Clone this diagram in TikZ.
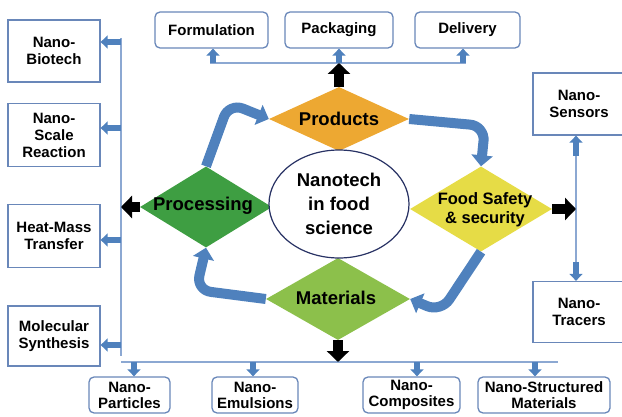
\documentclass[tikz,border=0pt]{standalone}
\usepackage{fontspec}
\setmainfont{Liberation Sans}
\usepackage{xcolor}
\usetikzlibrary{
	arrows.meta,
	shapes.geometric,
}
\definecolor{flowblue}{RGB}{79,129,189}
\definecolor{trunkblue}{RGB}{140,168,210}
\definecolor{boxedge}{RGB}{105,135,185}
\definecolor{products}{RGB}{237,168,50}
\definecolor{processing}{RGB}{62,158,66}
\definecolor{safety}{RGB}{230,220,70}
\definecolor{materials}{RGB}{140,192,75}
\definecolor{ellipseedge}{RGB}{40,50,100}

\begin{document}
\begin{tikzpicture}[x=1pt, y=-1pt,
	sqbox/.style={draw=boxedge, line width=1.3pt, fill=white, minimum width=92pt, inner sep=1pt, align=center, font=\fontsize{15}{17}\selectfont\bfseries},
	rdbox/.style={sqbox, rounded corners=5pt, minimum height=36pt, font=\fontsize{15}{16}\selectfont\bfseries},
	diam/.style={diamond, inner sep=0pt},
	bigtxt/.style={align=center, font=\fontsize{18.5}{24}\selectfont\bfseries},
	trunk/.style={draw=trunkblue, line width=1.6pt},
	smallarr/.style={flowblue, line width=6pt, -{Triangle[width=13pt,length=7pt]}},
	blackarr/.style={black, line width=10pt, -{Triangle[width=22pt,length=11pt]}},
	fatarr/.style={flowblue, line width=10pt, rounded corners=15pt, -{Triangle[width=21pt,length=11pt]}}]
\useasboundingbox (0,0) rectangle (622,417);

% left boxes
\node[sqbox, minimum height=62pt] (biotech) at (54,51) {Nano-\\Biotech};
\node[sqbox, minimum height=63pt] (scale) at (54,135) {Nano-\\Scale\\Reaction};
\node[sqbox, minimum height=63pt] (heat) at (54,236) {Heat-Mass\\Transfer};
\node[sqbox, minimum height=60pt] (molec) at (54,336) {Molecular\\Synthesis};

% right boxes
\node[sqbox, minimum height=62pt] (sensors) at (579,104) {Nano-\\Sensors};
\node[sqbox, minimum height=61pt] (tracers) at (579,312) {Nano-\\Tracers};

% top boxes
\node[rdbox, minimum width=113pt] (form) at (211.5,30) {Formulation};
\node[rdbox, minimum width=108pt] (pack) at (339,30) {Packaging};
\node[rdbox, minimum width=105pt] (deliv) at (467.5,30) {Delivery};

% bottom boxes
\node[rdbox, minimum width=81pt] (part) at (129.5,395) {Nano-\\Particles};
\node[rdbox, minimum width=86pt] (emul) at (255,395) {Nano-\\Emulsions};
\node[rdbox, minimum width=97pt] (comp) at (411.5,395) {Nano-\\Composites};
\node[rdbox, minimum width=132pt] (struct) at (544,395) {Nano-Structured\\Materials};

% trunk lines
\coordinate (lt) at (121,38);
\coordinate (lb) at (121,356);
\coordinate (bl) at (121,362);
\coordinate (br) at (558,362);
\coordinate (tl) at (210,63);
\coordinate (tr) at (466,63);
\coordinate (rt) at (576,150);
\coordinate (rb) at (576,266);
\draw[trunk] (lt) -- (lb);
\draw[trunk] (bl) -- (br);
\draw[trunk] (tl) -- (tr);
\draw[trunk] (rt) -- (rb);

% small blue arrows
\coordinate (l1) at (121,42);
\coordinate (l2) at (121,128);
\coordinate (l3) at (121,240);
\coordinate (l4) at (121,345);
\draw[smallarr] (l1) -- (l1 -| biotech.east);
\draw[smallarr] (l2) -- (l2 -| scale.east);
\draw[smallarr] (l3) -- (l3 -| heat.east);
\draw[smallarr] (l4) -- (l4 -| molec.east);
\coordinate (t1) at (213,63);
\coordinate (t2) at (339,63);
\coordinate (t3) at (463,63);
\draw[smallarr] (t1) -- (t1 |- form.south);
\draw[smallarr] (t2) -- (t2 |- pack.south);
\draw[smallarr] (t3) -- (t3 |- deliv.south);
\coordinate (b1) at (134,362);
\coordinate (b2) at (253,362);
\coordinate (b3) at (417,362);
\coordinate (b4) at (535,362);
\draw[smallarr] (b1) -- (b1 |- part.north);
\draw[smallarr] (b2) -- (b2 |- emul.north);
\draw[smallarr] (b3) -- (b3 |- comp.north);
\draw[smallarr] (b4) -- (b4 |- struct.north);
\coordinate (r1) at (576,156);
\coordinate (r2) at (576,262);
\draw[smallarr] (r1) -- (r1 |- sensors.south);
\draw[smallarr] (r2) -- (r2 |- tracers.north);

% diamonds
\node[diam, fill=products, minimum width=140pt, minimum height=64pt] (prod) at (339,119) {};
\node[diam, fill=processing, minimum width=132pt, minimum height=81pt] (proc) at (206,207) {};
\node[diam, fill=safety, minimum width=142pt, minimum height=85pt] (safe) at (481,209) {};
\node[diam, fill=materials, minimum width=144pt, minimum height=82pt] (mat) at (338,299) {};

% centre
\node[ellipse, draw=ellipseedge, line width=1.2pt, fill=white, minimum width=140pt, minimum height=108pt, bigtxt] (core) at (339,204) {Nanotech\\in food\\science};

\node[bigtxt] (prodtxt) at (prod.center) {Products};
\node[bigtxt] (proctxt) at (203,206) {Processing};
\node[bigtxt, font=\fontsize{16.5}{19}\selectfont\bfseries] (safetxt) at (485,210) {Food Safety\\\& security};
\node[bigtxt] (mattxt) at (336,298) {Materials};

% black arrows
\draw[blackarr] (proc.west) -- (proc.west -| lt);
\draw[blackarr] (prod.north) -- (prod.north |- tl);
\draw[blackarr] (safe.east) -- (safe.east -| rt);
\draw[blackarr] (mat.south) -- (mat.south |- bl);

% cycle
\draw[fatarr] (proc.north) -- (229,103) -- (prod.west);
\draw[fatarr] (prod.east) -- (485,126) -- (safe.north);
\draw[fatarr] (safe.south) -- (441,312) -- (mat.east);
\draw[fatarr] (mat.west) -- (196,290) -- (proc.south);

\end{tikzpicture}
\end{document}
